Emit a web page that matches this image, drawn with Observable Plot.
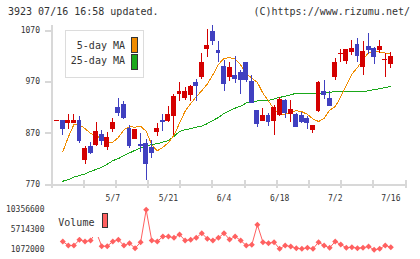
<!DOCTYPE html>
<html>
<head>
<meta charset="utf-8">
<script src="https://cdn.jsdelivr.net/npm/d3@7"></script>
<script src="https://cdn.jsdelivr.net/npm/@observablehq/plot@0.6"></script>
<style>
  body { margin: 0; background: #fff; }
  #chart { position: relative; width: 420px; height: 259px; overflow: hidden; background: #fff;
           font-family: "DejaVu Sans Mono", monospace; color: #333; }
  #chart svg { position: absolute; left: 0; overflow: visible; }
  .txt { position: absolute; font-size: 10px; line-height: 12px; white-space: pre; }
  .box { position: absolute; box-sizing: border-box; }
</style>
</head>
<body>
<div id="chart"></div>
<script>
// Daily session dates (trading days)
const dates = [
  "4/18","4/21","4/22","4/23","4/24","4/25","4/28","4/30","5/1","5/2",
  "5/7","5/8","5/9","5/12","5/13","5/14","5/15","5/16","5/19","5/20",
  "5/21","5/22","5/23","5/26","5/27","5/28","5/29","5/30","6/2","6/3",
  "6/4","6/5","6/6","6/9","6/10","6/11","6/12","6/13","6/16","6/17",
  "6/18","6/19","6/20","6/23","6/24","6/25","6/26","6/27","6/30","7/1",
  "7/2","7/3","7/4","7/7","7/8","7/9","7/10","7/11","7/14","7/15",
  "7/16"
];
const opens = [
  894,895,890,890,895,818,844,848,866,843,
  878,920,926,879,859,848,850,841,872,895,
  895,903,947,938,945,968,979,1034,1068,1031,
  1000,979,982,987,1006,969,914,894,903,895,
  906,932,907,905,903,898,876,913,951,936,
  979,1024,1010,1028,1041,999,1037,1035,1033,1012,
  1004
];
const highs = [
  895,895,906,906,903,845,853,892,876,871,
  898,938,931,885,877,869,859,856,890,906,
  922,945,969,960,964,974,1025,1072,1080,1049,
  1012,1007,1019,992,1006,982,914,918,908,924,
  940,936,934,908,910,903,885,970,973,951,
  1016,1033,1033,1050,1054,1049,1064,1037,1050,1025,
  1027
];
const lows = [
  894,865,878,890,850,810,828,845,846,837,
  871,903,896,841,859,833,778,822,863,874,
  892,866,931,934,932,931,974,1018,1041,1008,
  952,971,966,946,968,929,881,894,884,866,
  903,898,892,882,889,877,870,910,936,923,
  972,1008,1004,1021,1008,982,1023,1003,1025,979,
  997
];
const closes = [
  895,878,895,895,856,839,831,872,855,861,
  891,909,900,845,877,845,811,831,879,892,
  905,940,950,951,961,963,1006,1039,1049,1026,
  966,997,975,973,973,929,888,903,892,920,
  934,910,916,882,893,890,885,967,944,923,
  1006,1025,1033,1035,1020,1029,1033,1018,1037,1013,
  1019
];
const ma5 = [
  null,834,863,887,887,879,870,865,860,853,
  853,862,877,883,882,884,874,848,836,843,
  852,866,890,913,928,941,953,966,984,1004,
  1016,1017,1015,1003,987,977,969,948,933,917,
  906,907,912,914,912,907,898,893,899,915,
  922,941,963,985,998,1014,1027,1030,1028,1026,
  1024
];
const ma25 = [
  null,777,780,785,788,791,796,800,804,810,
  817,821,827,832,837,842,846,848,850,853,
  856,864,874,877,879,882,884,889,895,901,
  909,914,919,923,929,932,933,933,934,937,
  940,942,945,948,948,948,948,948,949,950,
  951,952,952,951,951,951,953,955,957,959,
  961
];
const volumes = [
  null,3000000,2070000,2070000,3390000,3000000,3230000,5250000,1910000,1910000,
  3000000,3390000,2070000,2600000,1440000,2840000,10356600,3230000,3000000,4160000,
  4160000,3860000,4620000,3230000,3390000,3860000,4930000,3620000,3230000,3860000,
  4930000,3460000,4160000,3230000,2070000,2230000,6870000,2840000,2600000,2840000,
  1300000,2070000,1840000,1440000,1300000,1540000,1300000,2840000,2070000,1540000,
  3000000,2300000,1540000,1680000,1440000,1540000,1840000,1072000,1300000,2070000,
  1680000
];
const priceTicks = [770, 870, 970, 1070];
const volumeTicks = [1072000, 5714300, 10356600];
const dateTicks = ["5/7", "5/21", "6/4", "6/18", "7/2", "7/16"];

const RED = "#d40000", BLUE = "#4040c0", ORANGE = "#f08c00", GREEN = "#1aa81a";
const VOL = "#ff6060", AXIS = "#d8d8d8", INK = "#333";

const candles = dates.map((date, i) => ({
  i, date, open: opens[i], high: highs[i], low: lows[i], close: closes[i],
  up: closes[i] >= opens[i]
}));
const ups = candles.filter(d => d.up);
const downs = candles.filter(d => !d.up);
const ma5Data = ma5.map((v, i) => ({i, v}));
const ma25Data = ma25.map((v, i) => ({i, v}));
const volData = volumes.map((v, i) => ({i, v}));

// horizontal index domain, slightly wider than the session range
const xDomain = [-1.03, 62.64];
// evenly spaced tick marks along the bottom frame line
const frameTicks = d3.range(12).map(k => xDomain[0] + k * (xDomain[1] - xDomain[0]) / 11);

const body = (data, color) => Plot.rect(data, {
  x1: d => d.i - 0.44, x2: d => d.i + 0.44,
  y1: d => Math.min(d.open, d.close), y2: d => Math.max(d.open, d.close),
  fill: color, insetTop: -0.5, insetBottom: -0.5
});
const wick = (data, color) => Plot.ruleX(data, {x: "i", y1: "low", y2: "high", stroke: color, strokeWidth: 1});

const price = Plot.plot({
  width: 420, height: 205,
  marginTop: 30, marginBottom: 20.7, marginLeft: 51, marginRight: 15,
  style: {fontFamily: "'DejaVu Sans Mono', monospace", fontSize: "8px", color: INK,
          background: "transparent", overflow: "visible", shapeRendering: "crispEdges"},
  x: {domain: xDomain, axis: null},
  y: {domain: [770, 1070], axis: null},
  marks: [
    Plot.ruleX([xDomain[0]], {stroke: AXIS, strokeWidth: 2, insetTop: -5}),
    Plot.ruleY([770], {stroke: AXIS, strokeWidth: 2}),
    Plot.ruleX(frameTicks, {stroke: AXIS, strokeWidth: 2, insetTop: 150, insetBottom: -4}),
    Plot.axisY({ticks: priceTicks, tickSize: 6, tickPadding: 5.5, stroke: AXIS, strokeWidth: 2,
                fill: INK, label: null, tickFormat: d => String(d)}),
    Plot.axisX({ticks: dateTicks.map(t => dates.indexOf(t)), tickSize: 0, tickPadding: 11,
                fill: INK, label: null, tickFormat: i => dates[i]}),
    Plot.line(ma25Data, {x: "i", y: "v", stroke: GREEN, strokeWidth: 1}),
    Plot.line(ma5Data, {x: "i", y: "v", stroke: ORANGE, strokeWidth: 1}),
    wick(ups, RED), wick(downs, BLUE),
    body(ups, RED), body(downs, BLUE)
  ]
});
price.style.top = "0px";

const volume = Plot.plot({
  width: 420, height: 54,
  marginTop: 4.3, marginBottom: 9.7, marginLeft: 51, marginRight: 15,
  style: {fontFamily: "'DejaVu Sans Mono', monospace", fontSize: "8px", color: INK,
          background: "transparent", overflow: "visible"},
  x: {domain: xDomain, axis: null},
  y: {domain: [volumeTicks[0], volumeTicks[2]], axis: null},
  marks: [
    Plot.axisY({ticks: volumeTicks, tickSize: 0, tickPadding: 7, fill: INK, label: null,
                tickFormat: d3.format("d")}),
    Plot.line(volData, {x: "i", y: "v", stroke: VOL, strokeWidth: 1}),
    Plot.dot(volData, {x: "i", y: "v", symbol: "diamond2", r: 2.7, fill: VOL, stroke: null})
  ]
});
volume.style.top = "205px";

const chart = document.getElementById("chart");
chart.append(price, volume);

function add(cls, css, text) {
  const el = document.createElement("div");
  el.className = cls;
  el.style.cssText = css;
  if (text) el.textContent = text;
  chart.append(el);
  return el;
}
// header
add("txt", "left:8px;top:6px;", "3923 07/16 16:58 updated.");
add("txt", "right:10px;top:6px;", "(C)https://www.rizumu.net/");
// moving-average legend
add("box", "left:65px;top:30px;width:79px;height:48px;border:1px solid #dcdcdc;background:#fff;");
add("txt", "right:295px;top:39.5px;", "5-day MA");
add("txt", "right:295px;top:55.4px;", "25-day MA");
add("box", `left:131px;top:37px;width:7px;height:16px;border:1px solid #333;background:${ORANGE};`);
add("box", `left:131px;top:54px;width:7px;height:16px;border:1px solid #333;background:${GREEN};`);
// volume legend
add("box", "left:54px;top:206px;width:56px;height:30.5px;background:#fff;");
add("txt", "left:58.3px;top:216.5px;", "Volume");
add("box", `left:101.5px;top:213.3px;width:6px;height:15px;border:1px solid #333;background:${VOL};`);
</script>
</body>
</html>
